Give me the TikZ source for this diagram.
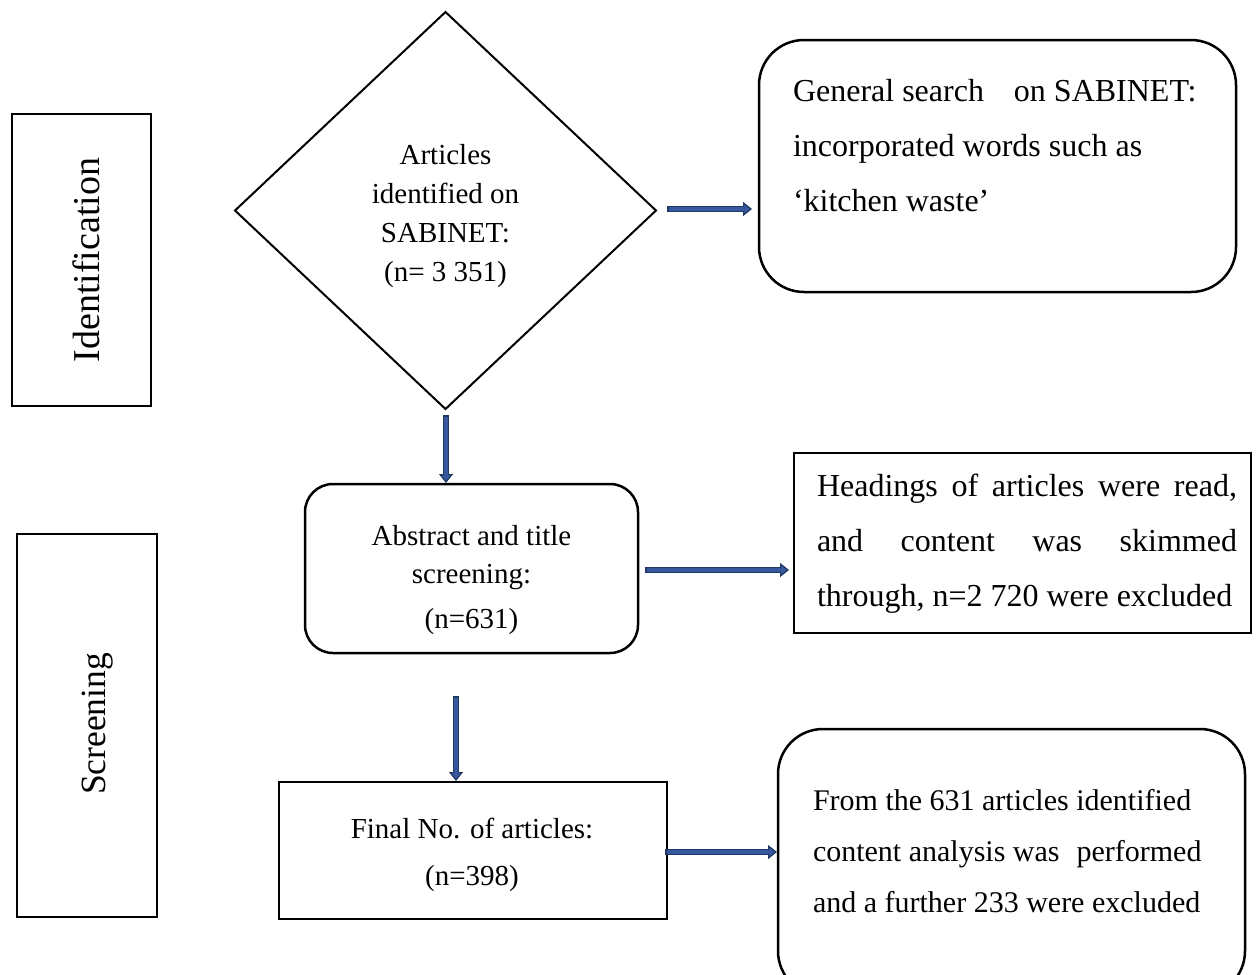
\documentclass[tikz,border=0pt]{standalone}
\usepackage{fontspec}
\setmainfont{Liberation Serif}
\usetikzlibrary{shapes.geometric,arrows.meta,calc}
\definecolor{arrowEdge}{RGB}{31,56,100}
\definecolor{arrowFill}{RGB}{55,88,158}
\tikzset{
  box/.style={draw=black, line width=2.5pt, inner sep=0pt, outer sep=0pt},
  rbox/.style={box, rounded corners=#1},
  dia/.style={draw=black, line width=2pt, shape=diamond, inner sep=0pt, outer sep=0pt},
  ltxt/.style={inner sep=0pt, outer sep=0pt, anchor=base west},
  ctxt/.style={inner sep=0pt, outer sep=0pt, anchor=base},
  flowout/.style={draw=arrowEdge, line width=6.5pt,
    -{Triangle[length=9pt,width=14pt,line width=1.2pt,fill=arrowFill]}},
  flowin/.style={draw=arrowFill, line width=3.2pt, shorten >=8pt, shorten <=1.6pt},
}
\newcommand{\flowarrow}[2]{%
  \draw[flowout] #1 -- #2;
  \draw[flowin] #1 -- #2;}
\begin{document}
\begin{tikzpicture}[x=1pt,y=-1pt]
\useasboundingbox (0,0) rectangle (1259,975);
\fill[white] (0,0) rectangle (1259,975);

% stage boxes
\node[box, minimum width=139pt, minimum height=292pt] (ident) at (81.5,260) {};
\node[rotate=90, inner sep=0pt, font=\fontsize{38}{40}\selectfont] (identt) at (86,260) {Identification};
\node[box, minimum width=140pt, minimum height=383pt] (screen) at (87,725.5) {};
\node[rotate=90, inner sep=0pt, font=\fontsize{35.5}{40}\selectfont] (screent) at (97.5,724) {Screening};

% diamond
\node[dia, minimum width=421pt, minimum height=397pt] (diam) at (445.5,210.5) {};
\node[ctxt] (diamt) at (445.5,164) {\parbox[t]{300pt}{\centering\fontsize{29}{39}\selectfont
  Articles\\ identified on\\ SABINET:\\ (n= 3 351)}};

% general search box
\node[rbox=45pt, minimum width=477pt, minimum height=252pt] (gen) at (997.5,166) {};
\node[ltxt] (gent) at (793,101) {\parbox[t]{440pt}{\fontsize{32}{55}\selectfont
  General search\hspace{30pt}on SABINET:\\ incorporated words such as\\ ‘kitchen waste’}};

% abstract box
\node[rbox=28pt, minimum width=333pt, minimum height=169pt] (abs) at (471.5,568.5) {};
\node[ctxt] (abst) at (471.5,545) {\parbox[t]{320pt}{\centering\fontsize{29}{38}\selectfont
  Abstract and title\\ screening:\\[7pt] (n=631)}};

% headings box
\node[box, minimum width=457pt, minimum height=180pt] (head) at (1022.5,543) {};
\node[ltxt] (headt) at (817,496) {\parbox[t]{420pt}{\fontsize{32}{55}\selectfont
  \makebox[420pt][s]{Headings of articles were read,}\\
  \makebox[420pt][s]{and content was skimmed}\\
  through, n=2 720 were excluded}};

% final box
\node[box, minimum width=388pt, minimum height=137pt] (fin) at (473,850.5) {};
\node[ctxt] (fint) at (472,838) {\parbox[t]{380pt}{\centering\fontsize{29}{47}\selectfont
  Final No. of articles:\\ (n=398)}};

% from box (runs past the bottom edge)
\node[rbox=45pt, minimum width=467pt, minimum height=267pt] (from) at (1011.5,862.5) {};
\node[ltxt] (fromt) at (813,810) {\parbox[t]{440pt}{\fontsize{30}{51}\selectfont
  From the 631 articles identified\\ content analysis was\hspace{17pt}performed\\ and a further 233 were excluded}};

% arrows
\flowarrow{($(diam.east)+(11,-1.5)$)}{($(diam.east -| gen.west)+(-7,-1.5)$)}
\flowarrow{($(diam.south)+(0.5,6)$)}{($(diam.south |- abs.north)+(0.5,-1)$)}
\flowarrow{($(abs.east)+(7,1.5)$)}{($(abs.east -| head.west)+(-5,1.5)$)}
\flowarrow{($(abs.south)+(-15.5,43)$)}{($(abs.south |- fin.north)+(-15.5,-1)$)}
\flowarrow{($(fin.east)+(-2,1.5)$)}{($(fin.east -| from.west)+(-1,1.5)$)}
\end{tikzpicture}
\end{document}
